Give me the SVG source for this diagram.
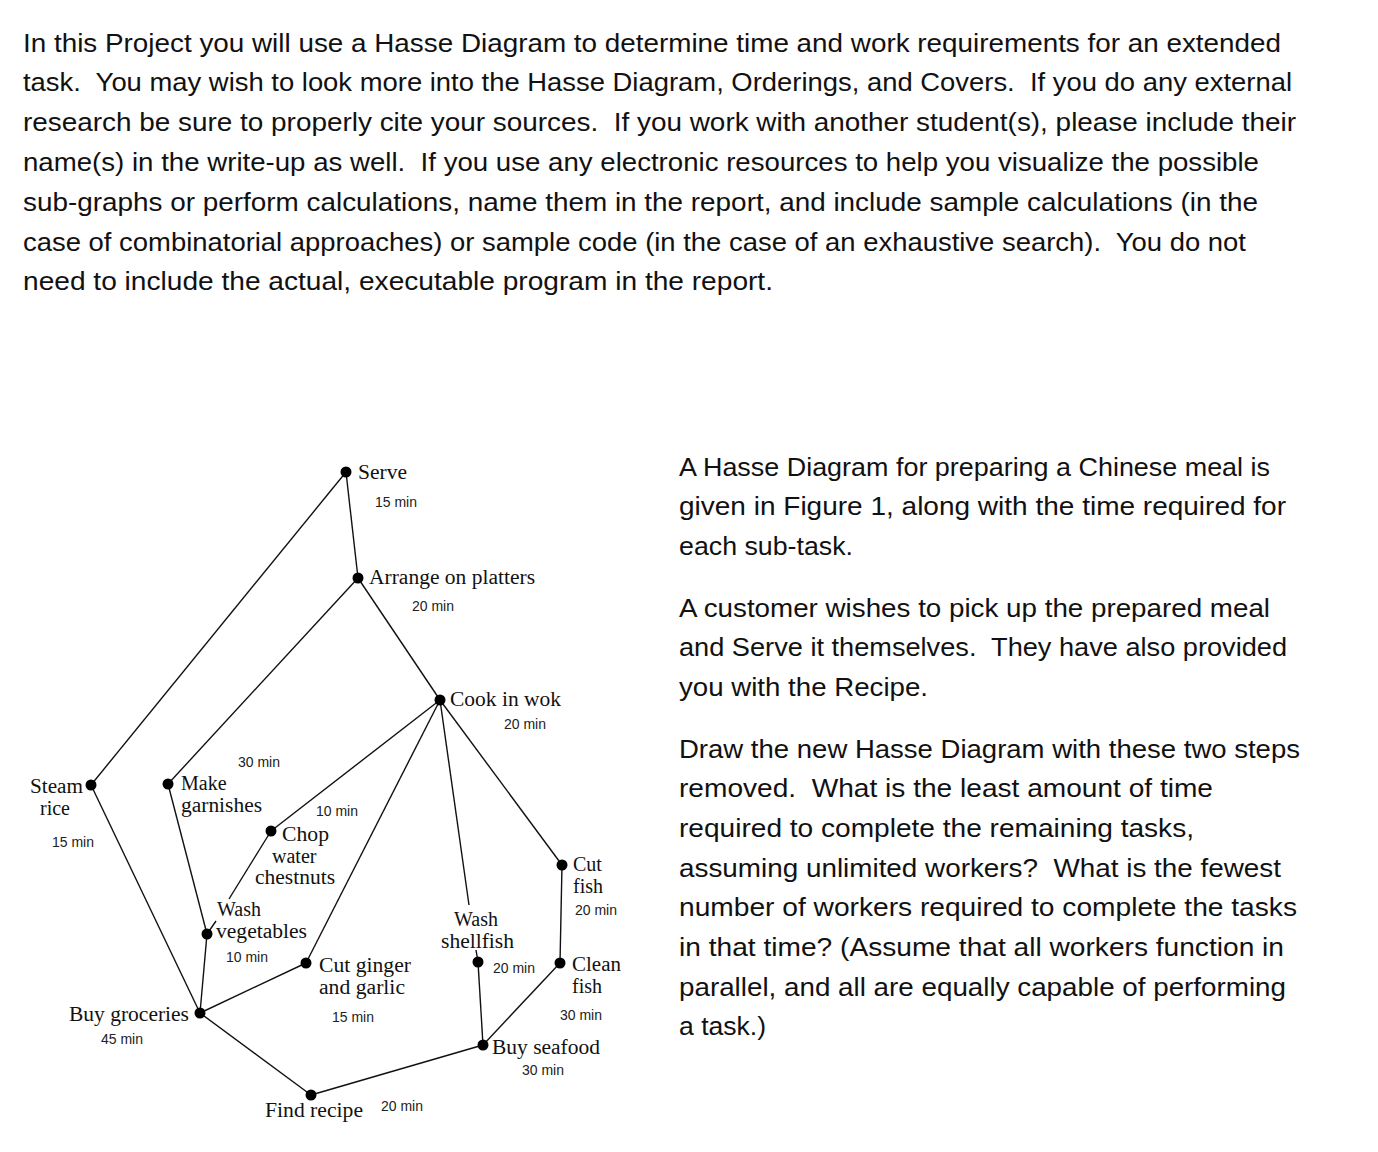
<svg xmlns="http://www.w3.org/2000/svg" width="1378" height="1152" viewBox="0 0 1378 1152">
<style>
.body{font-family:"Liberation Sans",Arial,sans-serif;font-size:26px;fill:#111}
.lbl{font-family:"Liberation Serif","Times New Roman",serif;font-size:20px;fill:#111}
.t{font-family:"Liberation Sans",Arial,sans-serif;font-size:14px;fill:#222}
.e{stroke:#111;stroke-width:1.4;fill:none}
.dot{fill:#000}
</style>
<rect width="1378" height="1152" fill="#fff"/>
<g id="intro" class="body">
<text x="23" y="52" textLength="1258" lengthAdjust="spacingAndGlyphs">In this Project you will use a Hasse Diagram to determine time and work requirements for an extended</text>
<text x="23" y="91" textLength="1269" lengthAdjust="spacingAndGlyphs" xml:space="preserve">task.  You may wish to look more into the Hasse Diagram, Orderings, and Covers.  If you do any external</text>
<text x="23" y="131" textLength="1273" lengthAdjust="spacingAndGlyphs" xml:space="preserve">research be sure to properly cite your sources.  If you work with another student(s), please include their</text>
<text x="23" y="171" textLength="1236" lengthAdjust="spacingAndGlyphs" xml:space="preserve">name(s) in the write-up as well.  If you use any electronic resources to help you visualize the possible</text>
<text x="23" y="211" textLength="1235" lengthAdjust="spacingAndGlyphs">sub-graphs or perform calculations, name them in the report, and include sample calculations (in the</text>
<text x="23" y="251" textLength="1223" lengthAdjust="spacingAndGlyphs" xml:space="preserve">case of combinatorial approaches) or sample code (in the case of an exhaustive search).  You do not</text>
<text x="23" y="290" textLength="750" lengthAdjust="spacingAndGlyphs">need to include the actual, executable program in the report.</text>
</g>
<g id="question" class="body">
<text x="679" y="476" textLength="591" lengthAdjust="spacingAndGlyphs">A Hasse Diagram for preparing a Chinese meal is</text>
<text x="679" y="515" textLength="607" lengthAdjust="spacingAndGlyphs">given in Figure 1, along with the time required for</text>
<text x="679" y="555" textLength="174" lengthAdjust="spacingAndGlyphs">each sub-task.</text>
<text x="679" y="617" textLength="591" lengthAdjust="spacingAndGlyphs">A customer wishes to pick up the prepared meal</text>
<text x="679" y="656" textLength="608" lengthAdjust="spacingAndGlyphs" xml:space="preserve">and Serve it themselves.  They have also provided</text>
<text x="679" y="696" textLength="249" lengthAdjust="spacingAndGlyphs">you with the Recipe.</text>
<text x="679" y="758" textLength="621" lengthAdjust="spacingAndGlyphs">Draw the new Hasse Diagram with these two steps</text>
<text x="679" y="797" textLength="534" lengthAdjust="spacingAndGlyphs" xml:space="preserve">removed.  What is the least amount of time</text>
<text x="679" y="837" textLength="515" lengthAdjust="spacingAndGlyphs">required to complete the remaining tasks,</text>
<text x="679" y="877" textLength="602" lengthAdjust="spacingAndGlyphs" xml:space="preserve">assuming unlimited workers?  What is the fewest</text>
<text x="679" y="916" textLength="618" lengthAdjust="spacingAndGlyphs">number of workers required to complete the tasks</text>
<text x="679" y="956" textLength="605" lengthAdjust="spacingAndGlyphs">in that time? (Assume that all workers function in</text>
<text x="679" y="996" textLength="607" lengthAdjust="spacingAndGlyphs">parallel, and all are equally capable of performing</text>
<text x="679" y="1035" textLength="87" lengthAdjust="spacingAndGlyphs">a task.)</text>
</g>
<g id="connectors" class="e">
<line x1="346" y1="472" x2="358" y2="578"/>
<line x1="346" y1="472" x2="91" y2="785"/>
<line x1="358" y1="578" x2="168" y2="784"/>
<line x1="358" y1="578" x2="440" y2="700"/>
<line x1="440" y1="700" x2="271" y2="831"/>
<line x1="440" y1="700" x2="306" y2="963"/>
<line x1="440" y1="700" x2="469" y2="905"/>
<line x1="476" y1="950" x2="478" y2="962"/>
<line x1="440" y1="700" x2="562" y2="865"/>
<line x1="562" y1="865" x2="560" y2="963"/>
<line x1="560" y1="963" x2="483" y2="1045"/>
<line x1="478" y1="962" x2="483" y2="1045"/>
<line x1="483" y1="1045" x2="311" y2="1095"/>
<line x1="200" y1="1013" x2="311" y2="1095"/>
<line x1="91" y1="785" x2="200" y2="1013"/>
<line x1="168" y1="784" x2="207" y2="934"/>
<line x1="271" y1="831" x2="229" y2="899"/>
<line x1="216" y1="921" x2="207" y2="934"/>
<line x1="207" y1="934" x2="200" y2="1013"/>
<line x1="306" y1="963" x2="200" y2="1013"/>
</g>
<g id="serve"><circle class="dot" cx="346" cy="472" r="5.5"/><text class="lbl" x="358" y="479" textLength="49" lengthAdjust="spacingAndGlyphs">Serve</text><text class="t" x="375" y="507">15 min</text></g>
<g id="arrange"><circle class="dot" cx="358" cy="578" r="5.5"/><text class="lbl" x="369" y="584" textLength="166" lengthAdjust="spacingAndGlyphs">Arrange on platters</text><text class="t" x="412" y="611">20 min</text></g>
<g id="cook"><circle class="dot" cx="440" cy="700" r="5.5"/><text class="lbl" x="450" y="706" textLength="111" lengthAdjust="spacingAndGlyphs">Cook in wok</text><text class="t" x="504" y="729">20 min</text></g>
<g id="steam-rice"><circle class="dot" cx="91" cy="785" r="5.5"/><text class="lbl" x="30" y="793" textLength="53" lengthAdjust="spacingAndGlyphs">Steam</text><text class="lbl" x="40" y="815">rice</text><text class="t" x="52" y="847">15 min</text></g>
<g id="make-garnishes"><circle class="dot" cx="168" cy="784" r="5.5"/><text class="lbl" x="181" y="790">Make</text><text class="lbl" x="181" y="812" textLength="81" lengthAdjust="spacingAndGlyphs">garnishes</text><text class="t" x="238" y="767">30 min</text></g>
<g id="chop"><circle class="dot" cx="271" cy="831" r="5.5"/><text class="lbl" x="282" y="841" textLength="47" lengthAdjust="spacingAndGlyphs">Chop</text><text class="lbl" x="272" y="863">water</text><text class="lbl" x="255" y="884" textLength="80" lengthAdjust="spacingAndGlyphs">chestnuts</text><text class="t" x="316" y="816">10 min</text></g>
<g id="cut-fish"><circle class="dot" cx="562" cy="865" r="5.5"/><text class="lbl" x="573" y="871">Cut</text><text class="lbl" x="573" y="893">fish</text><text class="t" x="575" y="915">20 min</text></g>
<g id="wash-vegetables"><circle class="dot" cx="207" cy="934" r="5.5"/><text class="lbl" x="217" y="916">Wash</text><text class="lbl" x="216" y="938" textLength="91" lengthAdjust="spacingAndGlyphs">vegetables</text><text class="t" x="226" y="962">10 min</text></g>
<g id="wash-shellfish"><circle class="dot" cx="478" cy="962" r="5.5"/><text class="lbl" x="454" y="926">Wash</text><text class="lbl" x="441" y="948" textLength="73" lengthAdjust="spacingAndGlyphs">shellfish</text><text class="t" x="493" y="973">20 min</text></g>
<g id="cut-ginger"><circle class="dot" cx="306" cy="963" r="5.5"/><text class="lbl" x="319" y="972" textLength="92" lengthAdjust="spacingAndGlyphs">Cut ginger</text><text class="lbl" x="319" y="994" textLength="86" lengthAdjust="spacingAndGlyphs">and garlic</text><text class="t" x="332" y="1022">15 min</text></g>
<g id="clean-fish"><circle class="dot" cx="560" cy="963" r="5.5"/><text class="lbl" x="572" y="971" textLength="49" lengthAdjust="spacingAndGlyphs">Clean</text><text class="lbl" x="572" y="993">fish</text><text class="t" x="560" y="1020">30 min</text></g>
<g id="buy-groceries"><circle class="dot" cx="200" cy="1013" r="5.5"/><text class="lbl" x="69" y="1021" textLength="120" lengthAdjust="spacingAndGlyphs">Buy groceries</text><text class="t" x="101" y="1044">45 min</text></g>
<g id="buy-seafood"><circle class="dot" cx="483" cy="1045" r="5.5"/><text class="lbl" x="492" y="1054" textLength="108" lengthAdjust="spacingAndGlyphs">Buy seafood</text><text class="t" x="522" y="1075">30 min</text></g>
<g id="find-recipe"><circle class="dot" cx="311" cy="1095" r="5.5"/><text class="lbl" x="265" y="1117" textLength="98" lengthAdjust="spacingAndGlyphs">Find recipe</text><text class="t" x="381" y="1111">20 min</text></g>
</svg>
